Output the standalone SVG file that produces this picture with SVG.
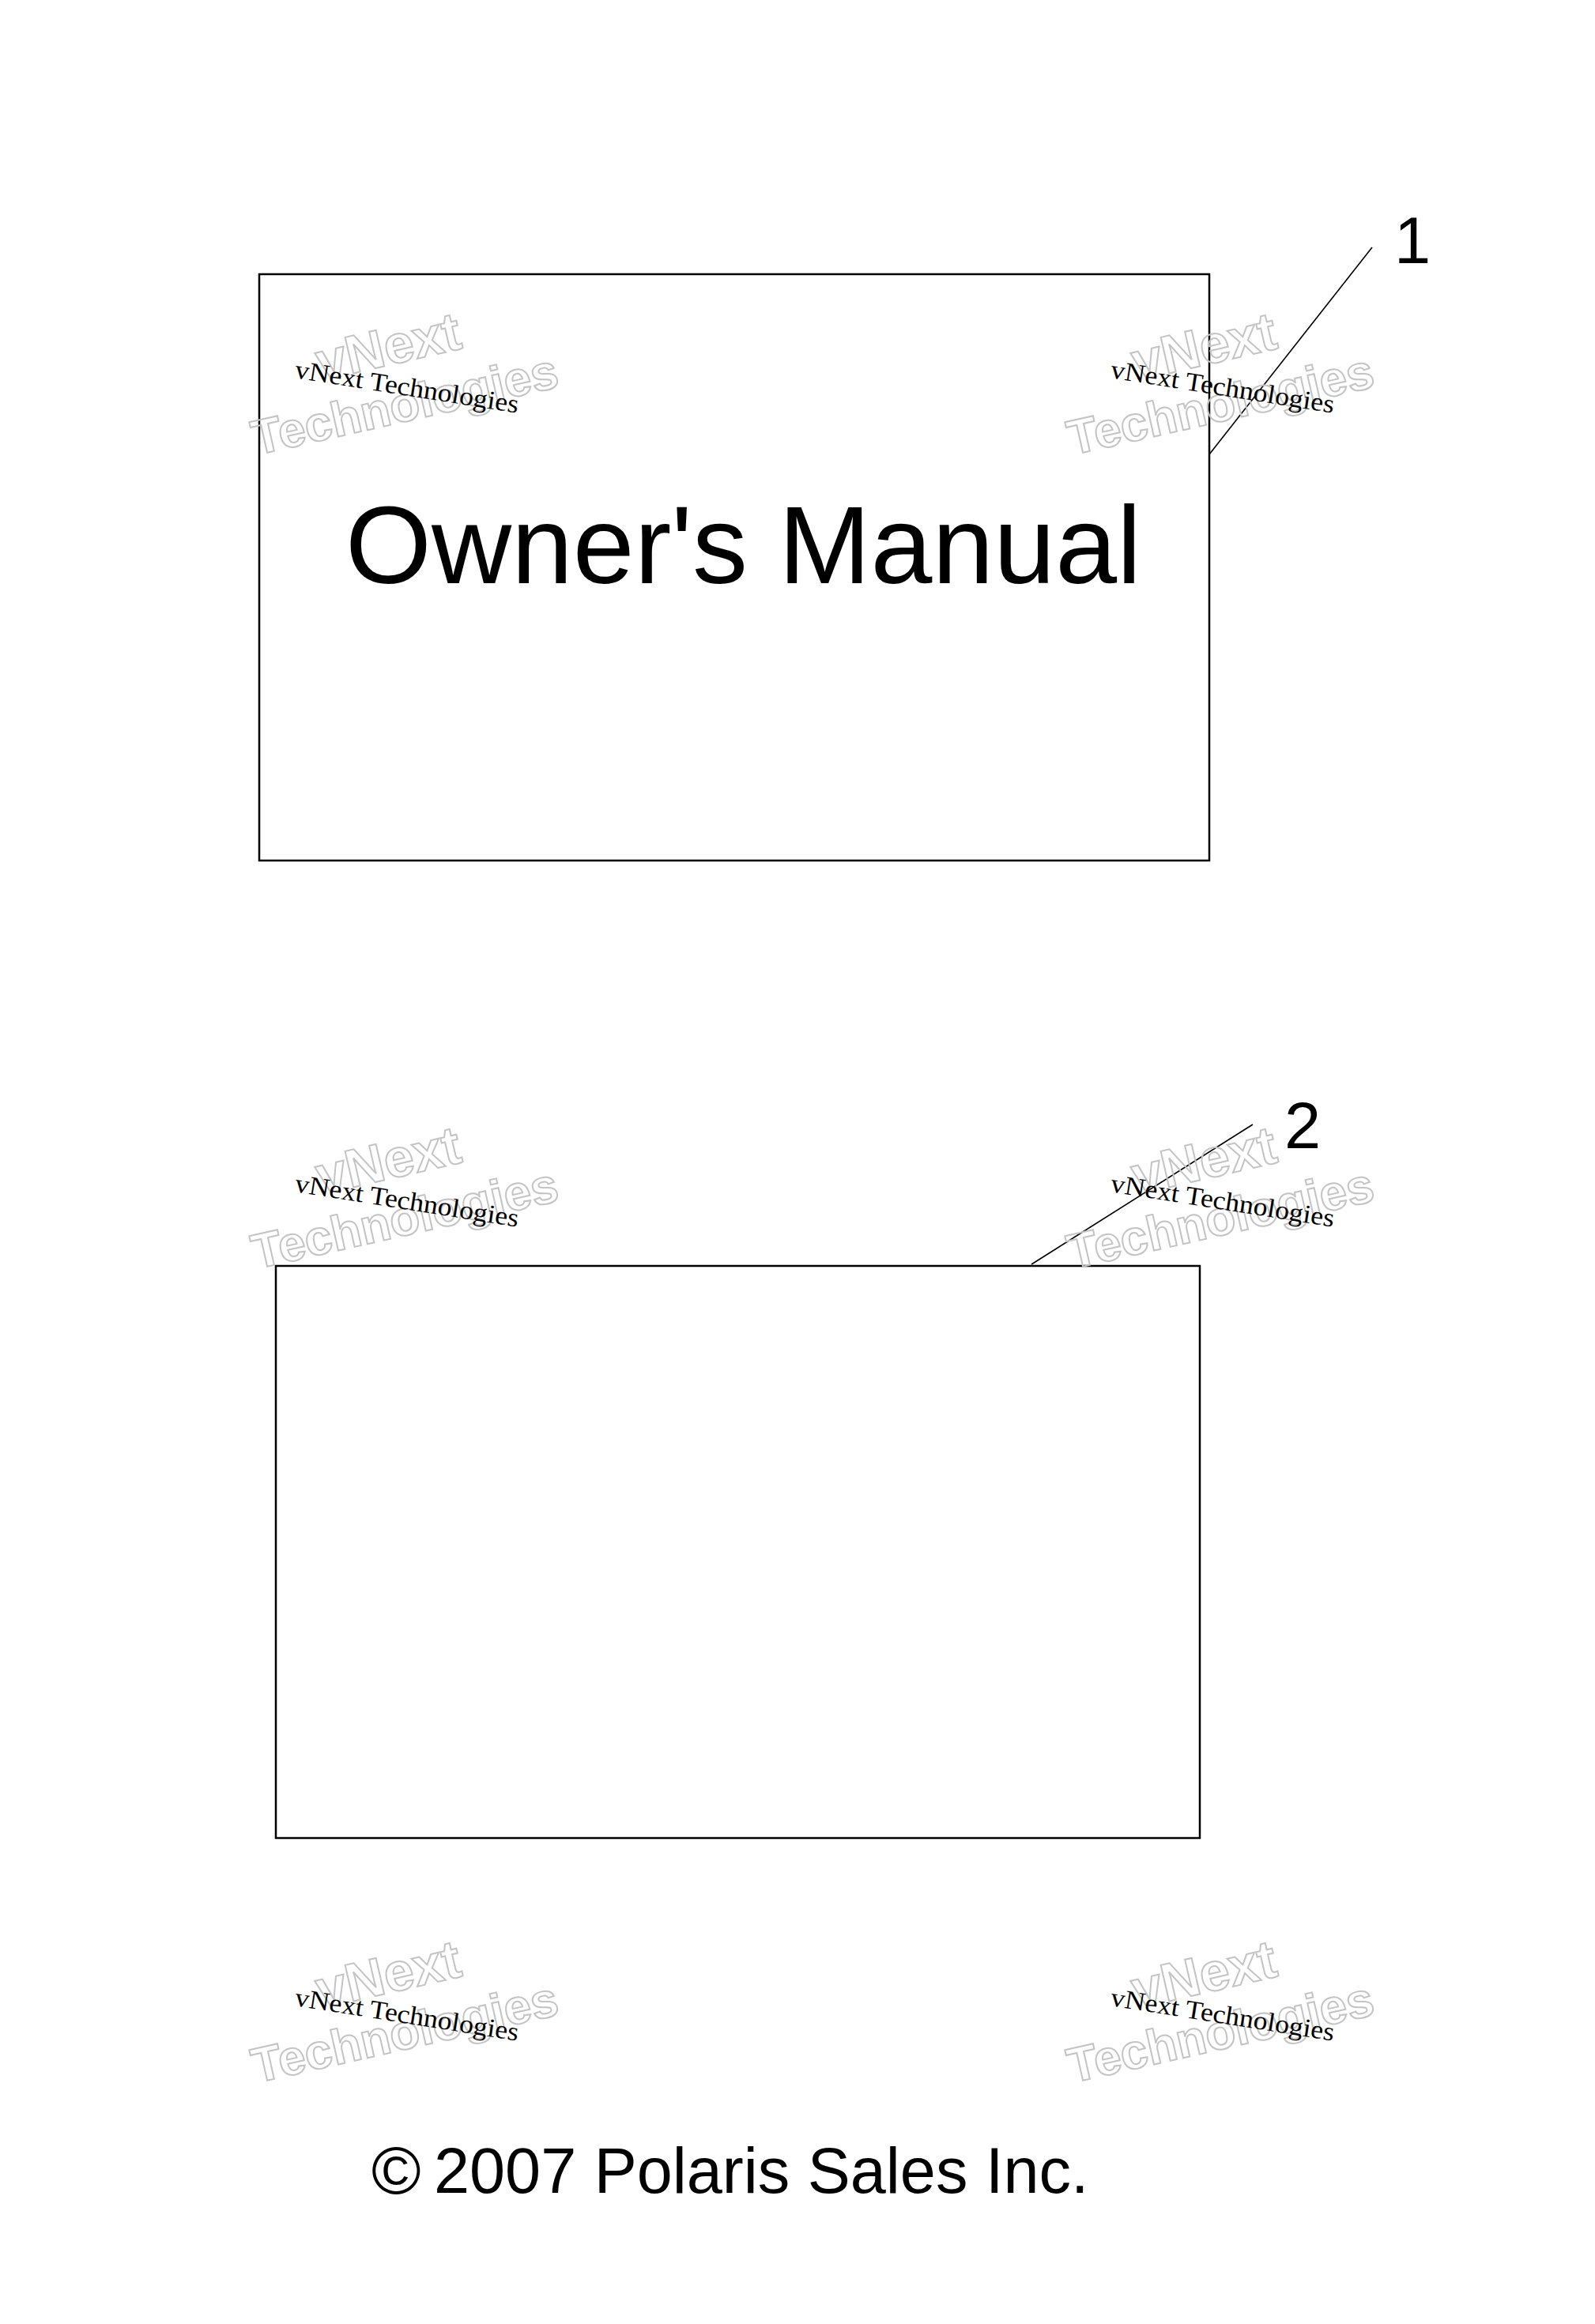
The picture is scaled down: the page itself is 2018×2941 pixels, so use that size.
<svg xmlns="http://www.w3.org/2000/svg" xmlns:xlink="http://www.w3.org/1999/xlink" width="2018" height="2941" viewBox="0 0 2018 2941">
<style>
.box{fill:none;stroke:#000;stroke-width:2.5}
.lead{fill:none;stroke:#000;stroke-width:1.6}
.num{font-family:"Liberation Sans",Arial,sans-serif;font-size:83px;fill:#000}
.wmg{font-family:"Liberation Sans",Arial,sans-serif;font-weight:bold;fill:none;stroke:#c4c4c4;stroke-width:2}
.wmb{font-family:"Liberation Serif","Times New Roman",serif;font-size:33px;fill:#000}
</style>
<defs>
<g id="wm">
<text class="wmg" font-size="62" transform="translate(324,576) rotate(-12.7)">Technologies</text>
<text class="wmg" font-size="68" transform="translate(406,482) rotate(-13)">vNext</text>
<text class="wmb" transform="translate(372,478) rotate(9)" textLength="286" lengthAdjust="spacingAndGlyphs">vNext Technologies</text>
</g>
</defs>
<rect width="2018" height="2941" fill="#fff"/>
<g id="node-1">
<rect class="box" x="328" y="347" width="1202" height="742"/>
<text x="437" y="738" font-family="Liberation Sans, Arial, sans-serif" font-size="140" fill="#000">Owner's Manual</text>
</g>
<g id="node-2">
<rect class="box" x="349" y="1602" width="1169" height="724"/>
</g>
<g id="connectors">
<line class="lead" x1="1530" y1="575" x2="1736" y2="313"/>
<line class="lead" x1="1305" y1="1600" x2="1585" y2="1423"/>
</g>
<g id="labels">
<text class="num" x="1764" y="333">1</text>
<text class="num" x="1625" y="1453">2</text>
</g>
<g id="watermarks">
<use xlink:href="#wm"/>
<use xlink:href="#wm" transform="translate(1032,0)"/>
<use xlink:href="#wm" transform="translate(0,1030)"/>
<use xlink:href="#wm" transform="translate(1032,1030)"/>
<use xlink:href="#wm" transform="translate(0,2060)"/>
<use xlink:href="#wm" transform="translate(1032,2060)"/>
</g>
<g id="copyright">
<text x="470" y="2776" font-family="Liberation Sans, Arial, sans-serif" font-size="85" fill="#000">©</text>
<text x="549" y="2775" font-family="Liberation Sans, Arial, sans-serif" font-size="81" fill="#000">2007 Polaris Sales Inc.</text>
</g>
</svg>
